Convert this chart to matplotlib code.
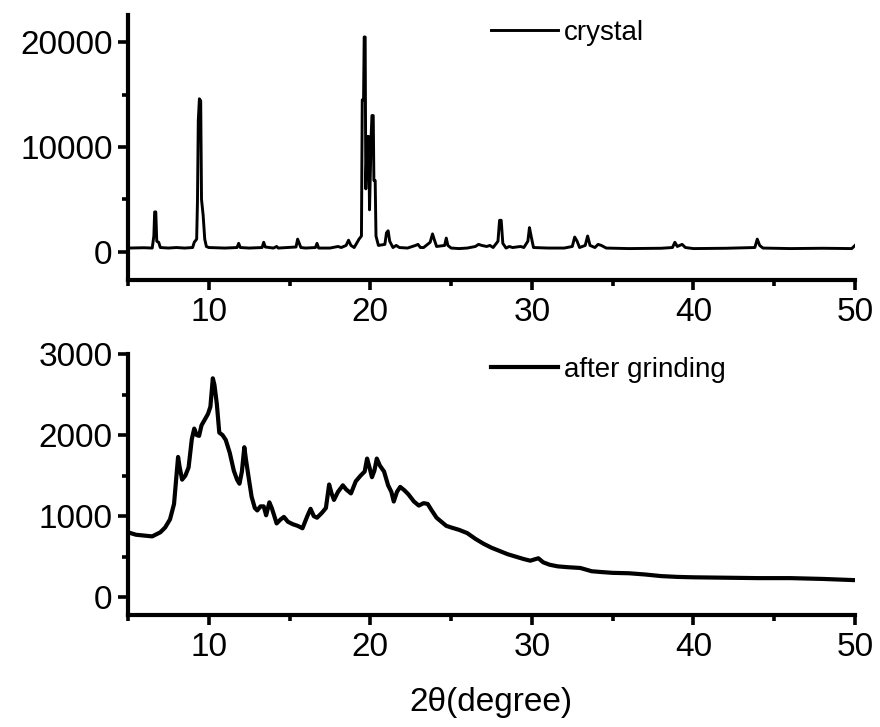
import matplotlib
matplotlib.use("Agg")
import matplotlib.pyplot as plt
from matplotlib.ticker import MultipleLocator

plt.rcParams['font.family'] = ['Liberation Sans', 'DejaVu Sans']

# crystal pattern (2theta, counts)
crystal_x = [5.0, 6.0, 6.5, 6.6, 6.65, 6.72, 6.78, 6.9, 7.0, 7.5, 8.0, 8.5, 9.0, 9.1, 9.25,
             9.3, 9.35, 9.42, 9.5, 9.55, 9.65, 9.75, 9.85, 10.0, 11.0, 11.75, 11.85, 11.95,
             12.5, 13.3, 13.4, 13.5, 14.0, 14.2, 14.3, 14.9, 15.4, 15.5, 15.6, 15.7, 16.0,
             16.6, 16.7, 16.8, 17.5, 18.0, 18.2, 18.5, 18.65, 18.8, 19.0, 19.3, 19.45, 19.5,
             19.58, 19.62, 19.68, 19.72, 19.8, 19.9, 19.95, 20.05, 20.1, 20.18, 20.22, 20.3,
             20.35, 20.5, 20.9, 21.0, 21.1, 21.2, 21.4, 21.6, 21.8, 22.3, 22.8, 22.95, 23.1,
             23.3, 23.7, 23.85, 23.95, 24.1, 24.6, 24.7, 24.8, 25.0, 25.5, 26.0, 26.5, 26.7,
             26.9, 27.2, 27.4, 27.6, 27.9, 28.0, 28.1, 28.2, 28.4, 28.6, 28.8, 29.3, 29.5,
             29.75, 29.85, 29.95, 30.1, 31.0, 32.0, 32.5, 32.65, 32.8, 32.95, 33.3, 33.45,
             33.6, 33.9, 34.1, 34.3, 34.6, 36.0, 38.0, 38.7, 38.85, 39.0, 39.3, 39.5, 40.0,
             42.0, 43.8, 43.95, 44.1, 44.3, 46.0, 48.0, 49.8, 50.0]
crystal_y = [350, 380, 350, 1500, 3800, 3800, 1000, 900, 400, 350, 400, 350, 400, 900, 1200,
             4800, 12500, 14600, 14400, 5000, 3500, 1200, 500, 400, 350, 400, 800, 400,
             350, 400, 900, 450, 350, 500, 350, 400, 450, 1200, 800, 400, 350,
             400, 800, 350, 350, 500, 400, 600, 1100, 600, 400, 1200, 1500, 14500,
             14500, 20500, 20500, 6000, 11000, 11000, 4000, 11000, 13000, 13000, 6800, 6800,
             1500, 600, 700, 1800, 2000, 1000, 400, 600, 400, 350, 600, 700, 400,
             400, 900, 1700, 1200, 500, 600, 1300, 600, 350, 300, 350, 500, 700,
             600, 500, 600, 400, 1000, 3000, 3000, 800, 350, 500, 400, 500, 400,
             1000, 2300, 1500, 400, 350, 350, 500, 1400, 1000, 400, 600, 1500,
             600, 400, 700, 600, 350, 300, 330, 400, 900, 500, 700, 400, 300,
             330, 400, 1200, 600, 350, 300, 330, 300, 600]

# pattern after grinding
ground_x = [5.0, 5.5, 6.0, 6.5, 7.0, 7.3, 7.6, 7.85, 8.0, 8.1, 8.2, 8.35, 8.55, 8.75, 8.95,
            9.1, 9.25, 9.4, 9.55, 9.75, 9.95, 10.1, 10.25, 10.35, 10.5, 10.65, 10.85, 11.05,
            11.3, 11.55, 11.75, 11.9, 12.05, 12.2, 12.3, 12.45, 12.65, 12.85, 13.0, 13.2,
            13.4, 13.55, 13.75, 13.9, 14.2, 14.45, 14.65, 14.9, 15.2, 15.5, 15.8, 16.1,
            16.3, 16.5, 16.7, 17.0, 17.25, 17.45, 17.6, 17.75, 18.0, 18.3, 18.5, 18.8,
            19.1, 19.4, 19.65, 19.8, 19.95, 20.1, 20.25, 20.4, 20.6, 20.85, 21.1, 21.3,
            21.45, 21.65, 21.85, 22.1, 22.35, 22.7, 23.0, 23.3, 23.55, 23.8, 24.1, 24.4,
            24.7, 25.0, 25.5, 26.0, 26.5, 27.0, 27.5, 28.0, 28.5, 29.0, 29.5, 29.9, 30.4,
            30.7, 31.1, 31.6, 32.2, 33.0, 33.7, 34.3, 35.0, 36.0, 37.0, 38.0, 39.0, 40.0,
            42.0, 44.0, 46.0, 48.0, 50.0]
ground_y = [800, 770, 760, 750, 800, 860, 960, 1150, 1500, 1730, 1600, 1450, 1500, 1600, 1950,
            2080, 2000, 1990, 2120, 2190, 2260, 2350, 2700, 2620, 2380, 2030, 2000, 1940,
            1780, 1560, 1450, 1400, 1550, 1850, 1700, 1500, 1240, 1100, 1070, 1120,
            1120, 1010, 1170, 1100, 910, 960, 990, 930, 900, 880, 850, 1000,
            1090, 1000, 980, 1040, 1100, 1390, 1280, 1200, 1300, 1380, 1330, 1280,
            1430, 1500, 1550, 1710, 1600, 1480, 1560, 1710, 1620, 1550, 1380, 1300,
            1180, 1300, 1360, 1320, 1270, 1180, 1130, 1160, 1150, 1070, 980, 930,
            880, 860, 830, 790, 720, 660, 610, 570, 530, 500, 470, 450, 480,
            430, 400, 380, 370, 360, 320, 310, 300, 295, 280, 260, 250, 245,
            240, 235, 235, 225, 210]

fig = plt.figure(figsize=(8.8, 7.27), dpi=100)
ax1 = fig.add_axes([128/880, 1-280/727, 727/880, 265/727])
ax2 = fig.add_axes([128/880, 1-615/727, 727/880, 261/727])

ax1.plot(crystal_x, crystal_y, color='black', lw=2.1, solid_joinstyle='round', label='crystal')
ax2.plot(ground_x, ground_y, color='black', lw=3.0, solid_joinstyle='round', label='after grinding')

ax1.set_ylim(-2700, 22600)
ax1.yaxis.set_major_locator(MultipleLocator(10000))
ax1.yaxis.set_minor_locator(MultipleLocator(5000))
ax2.set_ylim(-220, 3000)
ax2.yaxis.set_major_locator(MultipleLocator(1000))
ax2.yaxis.set_minor_locator(MultipleLocator(500))

for ax in (ax1, ax2):
    ax.set_xlim(5, 50)
    ax.xaxis.set_major_locator(MultipleLocator(10))
    ax.xaxis.set_minor_locator(MultipleLocator(5))
    ax.spines['top'].set_visible(False)
    ax.spines['right'].set_visible(False)
    ax.spines['left'].set_linewidth(3.0)
    ax.spines['bottom'].set_linewidth(3.0)
    ax.tick_params(which='major', direction='out', length=7, width=2.6, labelsize=24, pad=4)
    ax.tick_params(which='minor', direction='out', length=4, width=2.6)
    ax.tick_params(axis='x', which='major', pad=5)
    ax.legend(frameon=False, loc='center left', borderpad=0, borderaxespad=0,
              handlelength=2.4, handletextpad=0.22, fontsize=20,
              bbox_to_anchor=((491-128)/727, 0.93))

ax1.get_legend().set_bbox_to_anchor(((491-128)/727, (280-33)/265))
ax2.get_legend().set_bbox_to_anchor(((491-128)/727, (615-370)/261))

fig.text(491/880, 1-703/727, '2θ(degree)', ha='center', va='center', fontsize=24)

fig.savefig('out.png', dpi=100)
